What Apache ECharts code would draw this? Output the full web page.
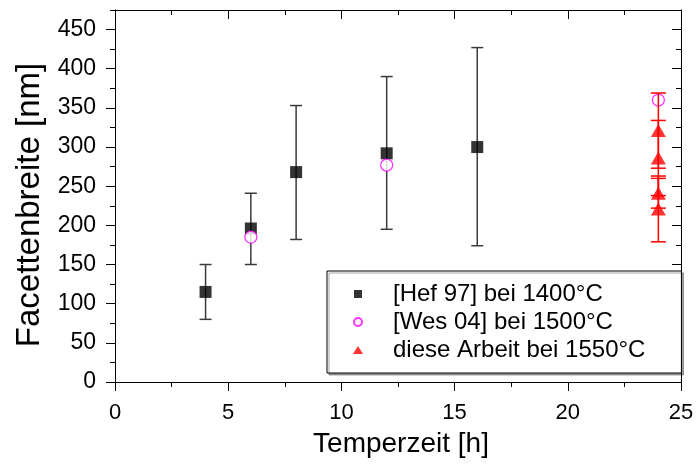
<!DOCTYPE html>
<html>
<head>
<meta charset="utf-8">
<script src="https://cdn.jsdelivr.net/npm/echarts@6/dist/echarts.min.js"></script>
<style>
html,body{margin:0;padding:0;background:#fff;}
#chart{width:700px;height:466px;}
</style>
</head>
<body>
<div id="chart"></div>
<script>
// ---- data ----
const seriesNames = ['[Hef 97] bei 1400°C', '[Wes 04] bei 1500°C', 'diese Arbeit bei 1550°C'];

const hefTime  = [4, 6, 8, 12, 16];
const hefWidth = [115, 196, 268, 292, 300];
const hefLow   = [80, 150, 182, 195, 174];
const hefHigh  = [150, 241, 353, 390, 427];

const wesTime  = [6, 12, 24];
const wesWidth = [185, 277, 360];

const ownTime  = [24, 24, 24, 24];
const ownWidth = [321, 286, 241, 221];
const ownLow   = [273, 238, 222, 179];
const ownHigh  = [369, 334, 260, 263];

const xMin = 0, xMax = 25, xStep = 5;
const yMin = 0, yMax = 475;
const yMajorTicks = [0, 50, 100, 150, 200, 250, 300, 350, 400, 450];
const yMinorTicks = [25, 75, 125, 175, 225, 275, 325, 375, 425, 475];

const xTitle = 'Temperzeit [h]';
const yTitle = 'Facettenbreite [nm]';

// ---- build ----
const FONT = '"Liberation Sans", Arial, sans-serif';
const pts = (xs, ys) => xs.map((x, i) => [x, ys[i]]);
const errs = (xs, lo, hi) => xs.map((x, i) => [x, lo[i], hi[i]]).filter(d => d[1] != null);

function errRender(color, capW, lw) {
  return function (params, api) {
    const x = api.value(0), lo = api.value(1), hi = api.value(2);
    const a = api.coord([x, lo]), b = api.coord([x, hi]);
    const st = { stroke: color, lineWidth: lw };
    return {
      type: 'group',
      children: [
        { type: 'line', shape: { x1: a[0], y1: a[1], x2: b[0], y2: b[1] }, style: st },
        { type: 'line', shape: { x1: a[0] - capW / 2, y1: a[1], x2: a[0] + capW / 2, y2: a[1] }, style: st },
        { type: 'line', shape: { x1: b[0] - capW / 2, y1: b[1], x2: b[0] + capW / 2, y2: b[1] }, style: st }
      ]
    };
  };
}

const axLine = { show: true, onZero: false, lineStyle: { color: '#000', width: 1 } };
const xBase = {
  type: 'value', min: xMin, max: xMax, interval: xStep,
  splitLine: { show: false }, axisLine: axLine,
  minorTick: { show: true, splitNumber: 2, length: 5, lineStyle: { color: '#000', width: 1 } }
};
const yBase = {
  type: 'value', min: yMin, max: yMax,
  splitLine: { show: false }, axisLine: axLine
};

const chart = echarts.init(document.getElementById('chart'), null, { renderer: 'canvas' });
chart.setOption({
  animation: false,
  backgroundColor: '#fff',
  grid: { left: 115, right: 19, top: 10, bottom: 84, containLabel: false },
  xAxis: [
    Object.assign({}, xBase, {
      position: 'bottom',
      axisTick: { show: true, length: 9, inside: false, lineStyle: { color: '#000', width: 1 } },
      axisLabel: { show: true, fontSize: 22, color: '#000', fontFamily: FONT, margin: 20 },
      name: xTitle, nameLocation: 'middle', nameGap: 48,
      nameTextStyle: { fontSize: 28, color: '#000', fontFamily: FONT, padding: [0, 0, 0, 6] }
    }),
    Object.assign({}, xBase, {
      position: 'top',
      axisTick: { show: true, length: 9, inside: true, lineStyle: { color: '#000', width: 1 } },
      axisLabel: { show: false }
    })
  ],
  yAxis: [
    Object.assign({}, yBase, {
      position: 'left',
      axisTick: { show: true, length: 9, inside: false, customValues: yMajorTicks, lineStyle: { color: '#000', width: 1 } },
      axisLabel: { show: true, customValues: yMajorTicks, fontSize: 23, color: '#000', fontFamily: FONT, margin: 19 },
      name: yTitle, nameLocation: 'middle', nameGap: 68, nameRotate: 90,
      nameTextStyle: { fontSize: 33, color: '#000', fontFamily: FONT, padding: [0, 18, 0, 0] }
    }),
    Object.assign({}, yBase, {
      position: 'left',
      axisTick: { show: true, length: 5, inside: false, customValues: yMinorTicks, lineStyle: { color: '#000', width: 1 } },
      axisLabel: { show: false }
    }),
    Object.assign({}, yBase, {
      position: 'right',
      axisTick: { show: true, length: 9, inside: true, customValues: yMajorTicks, lineStyle: { color: '#000', width: 1 } },
      axisLabel: { show: false }
    }),
    Object.assign({}, yBase, {
      position: 'right',
      axisTick: { show: true, length: 5, inside: true, customValues: yMinorTicks, lineStyle: { color: '#000', width: 1 } },
      axisLabel: { show: false }
    })
  ],
  legend: {
    orient: 'vertical',
    left: 327, top: 271,
    padding: [9, 36, 9, 26],
    itemGap: 0,
    itemWidth: 10, itemHeight: 8,
    borderColor: '#000', borderWidth: 1,
    backgroundColor: '#fff',
    shadowColor: 'rgba(0,0,0,0.35)', shadowOffsetX: 2, shadowOffsetY: 2, shadowBlur: 0,
    textStyle: { fontSize: 24, color: '#000', fontFamily: FONT, lineHeight: 28, padding: [0, 0, 0, 25] },
    data: [
      { name: seriesNames[0], icon: 'path://M0,0H10V10H0Z' },
      { name: seriesNames[1] },
      { name: seriesNames[2] }
    ]
  },
  series: [
    {
      name: 'hefErr', type: 'custom', renderItem: errRender('#3a3a3a', 12, 1.5),
      data: errs(hefTime, hefLow, hefHigh), encode: { x: 0, y: [1, 2] }, z: 2, silent: true
    },
    {
      name: seriesNames[0], type: 'scatter', symbol: 'rect', symbolSize: 12,
      itemStyle: { color: '#000' }, data: pts(hefTime, hefWidth), z: 3
    },
    {
      name: seriesNames[1], type: 'scatter', symbol: 'circle', symbolSize: 12,
      itemStyle: { color: '#fff', borderColor: '#ff00ff', borderWidth: 1.3 },
      data: pts(wesTime, wesWidth), z: 4
    },
    {
      name: 'ownErr', type: 'custom', renderItem: errRender('#ff0000', 15, 1.5),
      data: errs(ownTime, ownLow, ownHigh), encode: { x: 0, y: [1, 2] }, z: 5, silent: true
    },
    {
      name: seriesNames[2], type: 'scatter', symbol: 'triangle', symbolSize: [15, 13],
      itemStyle: { color: '#ff0000' }, data: pts(ownTime, ownWidth), z: 6
    }
  ]
});
</script>
</body>
</html>
